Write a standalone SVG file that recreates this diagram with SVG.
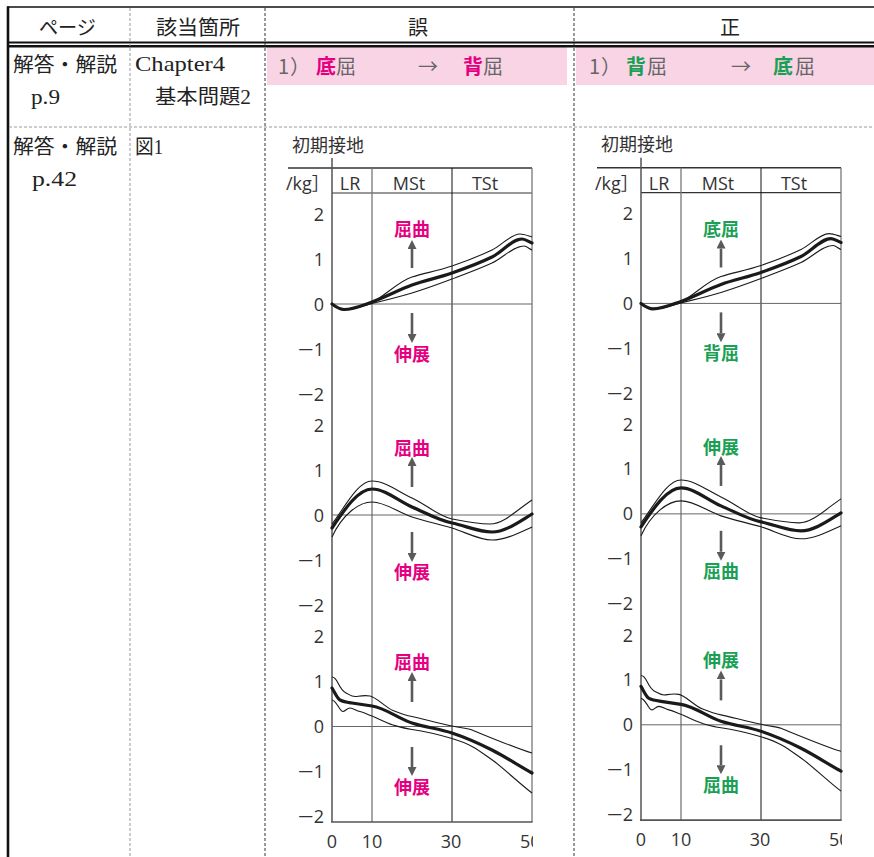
<svg xmlns="http://www.w3.org/2000/svg" xmlns:xlink="http://www.w3.org/1999/xlink" width="874" height="857" viewBox="0 0 874 857">
<style>
.tbl{font-family:"Liberation Serif","Noto Sans CJK JP",serif;font-size:20px;fill:#222}
.lat{font-size:22px}
.pk{font-family:"Noto Sans CJK JP",sans-serif;font-size:20px;fill:#666}
.ax{font-family:"Open Sans","Noto Sans","Noto Sans CJK JP",sans-serif;font-size:18px;fill:#333}
.ye{text-anchor:end}
.xm{text-anchor:middle}
.lbl{font-family:"Noto Sans CJK JP",sans-serif;font-weight:700;font-size:18px;text-anchor:middle}
.mg{fill:#e4007f}
.gr{fill:#1a9f55}
.thick{fill:none;stroke:#1a1a1a;stroke-width:3.2;stroke-linejoin:round;stroke-linecap:round}
.thin{fill:none;stroke:#1a1a1a;stroke-width:1.1}
.arr{stroke:#5a5a5a;stroke-width:2.6;marker-end:url(#ah)}
.dash1{stroke:#999;stroke-width:1;stroke-dasharray:3 2}
.dash2{stroke:#333;stroke-width:1;stroke-dasharray:3 2}
</style>
<defs>
<marker id="ah" viewBox="0 0 10 10" refX="0" refY="5" markerWidth="9" markerHeight="9" markerUnits="userSpaceOnUse" orient="auto">
<path d="M0,0 L10,5 L0,10 z" fill="#5a5a5a"/>
</marker>
<clipPath id="xclip"><rect x="0" y="0" width="533" height="857"/></clipPath>
<g id="chart">
<text x="292" y="151.5" style="font-family:'Noto Sans CJK JP',sans-serif;font-size:18px;fill:#333">初期接地</text>
<line x1="288" y1="168" x2="532" y2="168" stroke="#333" stroke-width="1.3"/>
<line x1="332" y1="193" x2="532" y2="193" stroke="#333" stroke-width="1.2"/>
<line x1="332" y1="158" x2="332" y2="822" stroke="#555" stroke-width="1.5"/>
<line x1="372" y1="168" x2="372" y2="822" stroke="#777" stroke-width="1.3"/>
<line x1="452" y1="168" x2="452" y2="822" stroke="#111" stroke-width="1"/>
<line x1="532" y1="168" x2="532" y2="822" stroke="#777" stroke-width="1.3"/>
<line x1="331" y1="822" x2="532.6" y2="822" stroke="#555" stroke-width="1.7"/>
<line x1="332" y1="304" x2="532" y2="304" stroke="#666" stroke-width="1"/>
<line x1="332" y1="515" x2="532" y2="515" stroke="#666" stroke-width="1"/>
<line x1="332" y1="726.5" x2="532" y2="726.5" stroke="#666" stroke-width="1"/>
<text class="ax" x="286" y="190">/kg］</text>
<text class="ax xm" x="350" y="190">LR</text>
<text class="ax xm" x="409" y="190">MSt</text>
<text class="ax xm" x="485" y="190">TSt</text>
<text class="ax ye" x="324" y="220.5">2</text>
<text class="ax ye" x="324" y="265.5">1</text>
<text class="ax ye" x="324" y="310.5">0</text>
<text class="ax ye" x="324" y="355.5"><tspan textLength="16" lengthAdjust="spacingAndGlyphs">−</tspan>1</text>
<text class="ax ye" x="324" y="400.5"><tspan textLength="16" lengthAdjust="spacingAndGlyphs">−</tspan>2</text>
<text class="ax ye" x="324" y="431.5">2</text>
<text class="ax ye" x="324" y="476.5">1</text>
<text class="ax ye" x="324" y="521.5">0</text>
<text class="ax ye" x="324" y="566.5"><tspan textLength="16" lengthAdjust="spacingAndGlyphs">−</tspan>1</text>
<text class="ax ye" x="324" y="611.5"><tspan textLength="16" lengthAdjust="spacingAndGlyphs">−</tspan>2</text>
<text class="ax ye" x="324" y="643">2</text>
<text class="ax ye" x="324" y="688">1</text>
<text class="ax ye" x="324" y="733">0</text>
<text class="ax ye" x="324" y="778"><tspan textLength="16" lengthAdjust="spacingAndGlyphs">−</tspan>1</text>
<text class="ax ye" x="324" y="823"><tspan textLength="16" lengthAdjust="spacingAndGlyphs">−</tspan>2</text>
<text class="ax xm" x="332" y="848">0</text>
<text class="ax xm" x="372" y="848">10</text>
<text class="ax xm" x="451" y="848">30</text>
<text class="ax" x="520" y="848" clip-path="url(#xclip)">50</text>
<path class="thin" d="M344,309.3 C353,309.3 363,306.5 372,302.5 C385.3,295.7 398.7,281 412,277 C425.3,273 438.7,270.5 452,266 C465.3,261.5 478.7,256.3 492,250 C501.3,245.6 510.7,234 520,234 C524,234 528,235.8 532,237"/>
<path class="thin" d="M344,309.5 C353,309.5 364,305.5 372,303.5 C385.3,300.2 398.7,297.1 412,293 C425.3,288.9 438.7,284 452,279 C465.3,274 478.7,269.1 492,263 C502.7,258.1 513.3,246 524,246 C526.7,246 529.3,248.9 532,250"/>
<path class="thick" d="M332,304 C336,307 340,309.5 344,309.5 C353,309.5 362.7,305.3 372,302 C385.3,297.2 398.7,289.8 412,285 C425.3,280.2 438.7,277.7 452,273 C465.3,268.3 478.7,263.5 492,257 C502,252.1 512,239 522,239 C525.3,239 528.7,241.7 532,243"/>
<path class="thin" d="M332,524 C345,507 358,481 372,481 C385.3,481 398.7,492 412,498 C425.3,504 438.7,516.3 452,519 C464.7,521.5 477.3,524 490,524 C504,524 518,509.1 532,500"/>
<path class="thin" d="M332,537 C342,515 358.7,502 372,502 C385.3,502 398.7,512.6 412,517 C425.3,521.4 438.7,524 452,528 C465.3,532 478.7,540 492,540 C505.3,540 518.7,533 532,527"/>
<path class="thick" d="M332,528 C345.3,508 358.7,489 372,489 C385.3,489 398.7,501.3 412,507 C425.3,512.7 438.7,520.3 452,523 C465.3,525.7 478.7,532 492,532 C505.3,532 518.7,522 532,514"/>
<path class="thin" d="M332,677 C334,677 336,679 338,683 S342,691 346,693 S352,697 356,696.5 S364,695 370,696 S386,707.7 393,710.5 S406,715.5 412,716.5 S440,723.6 452,726 S468,728.5 472,730 S520,750 532,753"/>
<path class="thin" d="M332,700 C334,700 336,703 338,706 S341,711.5 343,711.5 S347,708 350,708 S356,710.5 360,711.5 S368,714.5 372,716 S386,723 393,725 S405,728.5 412,729.5 S440,735 452,738.5 S466,743 473,747 S485,755 493,760.5 S520,784 532,793"/>
<path class="thick" d="M332,688 C334.7,692.3 337.3,698.7 340,700 C344,702 348,702.4 352,703 C358.7,704 365.3,705 372,706 C385.3,708 398.7,718.6 412,723 C425.3,727.4 438.7,728.6 452,733 C465.3,737.4 478.7,743.3 492,750 C505.3,756.7 518.7,765.7 532,773"/>
<line class="arr" x1="412" y1="268" x2="412" y2="249"/>
<line class="arr" x1="412" y1="313" x2="412" y2="334"/>
<line class="arr" x1="412" y1="487" x2="412" y2="466"/>
<line class="arr" x1="412" y1="532" x2="412" y2="553"/>
<line class="arr" x1="412" y1="702" x2="412" y2="681"/>
<line class="arr" x1="412" y1="747" x2="412" y2="767"/>
</g>
</defs>

<g id="table-lines">
<rect x="267" y="47" width="300" height="38" fill="#f9d4e5"/>
<rect x="576" y="47" width="298" height="38" fill="#f9d4e5"/>
<line x1="7" y1="7" x2="874" y2="7" stroke="#111" stroke-width="1.6"/>
<line x1="8" y1="6.5" x2="8" y2="857" stroke="#111" stroke-width="2.6"/>
<line x1="8" y1="42.5" x2="874" y2="42.5" stroke="#111" stroke-width="2"/>
<line x1="8" y1="46.3" x2="874" y2="46.3" stroke="#111" stroke-width="2.4"/>
<line class="dash1" x1="130" y1="8" x2="130" y2="857"/>
<line class="dash2" x1="265" y1="8" x2="265" y2="857"/>
<line class="dash2" x1="574" y1="8" x2="574" y2="857"/>
<line class="dash1" x1="9" y1="127" x2="874" y2="127"/>
</g>

<g id="header">
<text class="tbl" x="39" y="34.5" textLength="57" lengthAdjust="spacingAndGlyphs">ページ</text>
<text class="tbl" x="156" y="34.5" textLength="84" lengthAdjust="spacingAndGlyphs">該当箇所</text>
<text class="tbl xm" x="418" y="34.5">誤</text>
<text class="tbl xm" x="730" y="34.5">正</text>
</g>

<g id="row1">
<text class="tbl" x="13" y="72" textLength="104" lengthAdjust="spacingAndGlyphs">解答・解説</text>
<text class="tbl lat" x="31" y="104" textLength="29" lengthAdjust="spacingAndGlyphs">p.9</text>
<text class="tbl lat" x="135" y="71" textLength="90" lengthAdjust="spacingAndGlyphs">Chapter4</text>
<text class="tbl" x="155" y="104" textLength="96" lengthAdjust="spacingAndGlyphs">基本問題2</text>
<text class="pk" y="73.5"><tspan x="278">1</tspan><tspan x="290">）</tspan><tspan x="316" class="mg" font-weight="700">底</tspan><tspan x="336">屈</tspan><tspan x="418">→</tspan><tspan x="463" class="mg" font-weight="700">背</tspan><tspan x="483">屈</tspan></text>
<text class="pk" y="73.5"><tspan x="589">1</tspan><tspan x="601">）</tspan><tspan x="626" class="gr" font-weight="700">背</tspan><tspan x="647">屈</tspan><tspan x="731">→</tspan><tspan x="773" class="gr" font-weight="700">底</tspan><tspan x="795">屈</tspan></text>
</g>

<g id="row2">
<text class="tbl" x="13" y="153.5" textLength="104" lengthAdjust="spacingAndGlyphs">解答・解説</text>
<text class="tbl lat" x="32" y="186" textLength="45" lengthAdjust="spacingAndGlyphs">p.42</text>
<text class="tbl" x="135" y="153.5" textLength="28" lengthAdjust="spacingAndGlyphs">図1</text>
</g>

<g id="chart-wrong">
<use xlink:href="#chart" href="#chart"/>
<text class="lbl mg" x="412" y="236">屈曲</text>
<text class="lbl mg" x="412" y="361">伸展</text>
<text class="lbl mg" x="412" y="455">屈曲</text>
<text class="lbl mg" x="412" y="579">伸展</text>
<text class="lbl mg" x="412" y="669">屈曲</text>
<text class="lbl mg" x="412" y="794">伸展</text>
</g>

<g id="chart-correct" transform="matrix(1,0,0,0.9974,309,0.2)">
<use xlink:href="#chart" href="#chart"/>
<text class="lbl gr" x="412" y="236">底屈</text>
<text class="lbl gr" x="412" y="361">背屈</text>
<text class="lbl gr" x="412" y="455">伸展</text>
<text class="lbl gr" x="412" y="579">屈曲</text>
<text class="lbl gr" x="412" y="669">伸展</text>
<text class="lbl gr" x="412" y="794">屈曲</text>
</g>
</svg>
